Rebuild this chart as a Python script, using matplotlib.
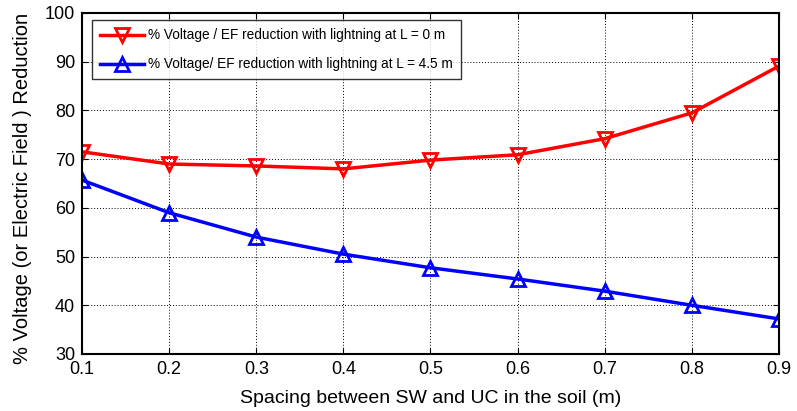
import matplotlib
matplotlib.use('Agg')
import matplotlib.pyplot as plt

plt.rcParams['font.family'] = ['Liberation Sans', 'DejaVu Sans']

# spacing between shield wire and underground cable (m)
spacing = [0.1, 0.2, 0.3, 0.4, 0.5, 0.6, 0.7, 0.8, 0.9]
# % reduction, lightning at L = 0 m
red_L0 = [71.5, 69.0, 68.6, 68.0, 69.8, 70.9, 74.2, 79.5, 89.1]
# % reduction, lightning at L = 4.5 m
blue_L45 = [65.7, 59.0, 54.0, 50.5, 47.7, 45.4, 42.9, 40.0, 37.2]

xticks = [0.1, 0.2, 0.3, 0.4, 0.5, 0.6, 0.7, 0.8, 0.9]
yticks = [30, 40, 50, 60, 70, 80, 90, 100]

fig = plt.figure(figsize=(7.97, 4.11), dpi=100)
ax = fig.add_axes([0.1029, 0.1387, 0.8745, 0.8297])

ax.plot(spacing, red_L0, color='red', lw=2.5, marker='v', ms=10,
        mfc='none', mec='red', mew=2,
        label='% Voltage / EF reduction with lightning at L = 0 m')
ax.plot(spacing, blue_L45, color='blue', lw=2.5, marker='^', ms=10,
        mfc='none', mec='blue', mew=2,
        label='% Voltage/ EF reduction with lightning at L = 4.5 m')

ax.set_xlim(0.1, 0.9)
ax.set_ylim(30, 100)
ax.set_xticks(xticks)
ax.set_yticks(yticks)
ax.set_xticklabels([f'{v:g}' for v in xticks], fontsize=13)
ax.set_yticklabels([str(v) for v in yticks], fontsize=13)
ax.tick_params(direction='in', length=4, width=0.8, top=True, right=True)
ax.tick_params(axis='x', pad=5)
ax.tick_params(axis='y', pad=5)
ax.grid(True, color='black', linestyle=(0, (1, 2)), linewidth=0.7)
for s in ax.spines.values():
    s.set_linewidth(1.5)

ax.set_xlabel('Spacing between SW and UC in the soil (m)', fontsize=14, labelpad=9)
ax.set_ylabel('% Voltage (or Electric Field ) Reduction', fontsize=14.5)
ax.yaxis.set_label_coords(-0.072, 0.485)

leg = ax.legend(loc='upper left', bbox_to_anchor=(0.0143, 0.979), fontsize=9.8,
                frameon=True, fancybox=False, edgecolor='black',
                handlelength=3.2, borderpad=0.6, labelspacing=1.1,
                handletextpad=0.3, borderaxespad=0)
leg.get_frame().set_linewidth(1.0)

fig.savefig('out.png', dpi=100)
